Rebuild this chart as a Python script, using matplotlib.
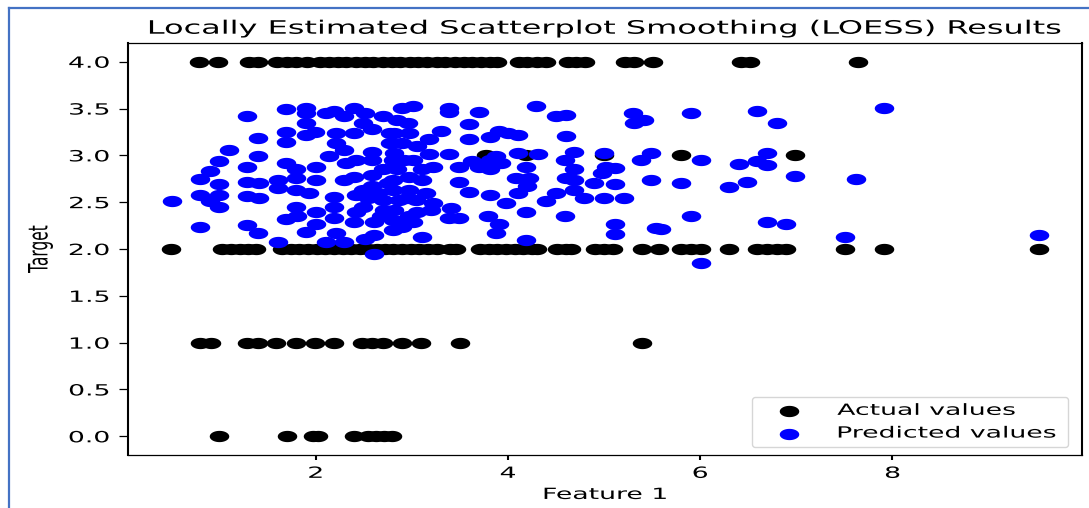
import numpy as np
import matplotlib
matplotlib.use("Agg")
import matplotlib.pyplot as plt
from matplotlib.path import Path
from matplotlib.lines import Line2D
from matplotlib.patheffects import AbstractPathEffect
from matplotlib.transforms import Affine2D

# ---------------- data ----------------
# Actual target values grouped by level (x = Feature 1)
actual_x_at_4 = [0.79, 0.99, 1.31, 1.40, 1.60, 1.70, 1.80, 1.91, 2.05, 2.14, 2.23, 2.32,
                 2.42, 2.51, 2.60, 2.70, 2.79, 2.88, 2.98, 3.07, 3.16, 3.26, 3.35, 3.45,
                 3.54, 3.63, 3.72, 3.81, 3.89, 4.12, 4.20, 4.30, 4.40, 4.62, 4.71, 4.80,
                 5.22, 5.31, 5.51, 6.42, 6.52, 7.64]
actual_x_at_3 = [3.77, 4.19, 5.00, 5.80, 6.99]
actual_x_at_2 = [0.50, 1.03, 1.12, 1.21, 1.30, 1.38, 1.65, 1.74, 1.83, 1.92, 2.01, 2.10,
                 2.19, 2.28, 2.37, 2.46, 2.55, 2.64, 2.72, 2.81, 2.90, 2.99, 3.08, 3.17,
                 3.26, 3.40, 3.46, 3.71, 3.80, 3.89, 3.98, 4.07, 4.16, 4.25, 4.30, 4.51,
                 4.60, 4.66, 4.91, 5.00, 5.09, 5.40, 5.57, 5.80, 5.90, 6.01, 6.30, 6.59,
                 6.69, 6.80, 6.89, 7.51, 7.91, 9.52]
actual_x_at_1 = [0.80, 0.91, 1.29, 1.40, 1.59, 1.80, 1.99, 2.19, 2.48, 2.59, 2.70, 2.90,
                 3.10, 3.50, 5.40]
actual_x_at_0 = [1.00, 1.70, 1.97, 2.03, 2.40, 2.55, 2.63, 2.71, 2.79]
actual_levels = [4.0, 3.0, 2.0, 1.0, 0.0]

# LOESS predictions
pred_x = [0.51, 0.80, 0.80, 0.80, 0.90, 1.00, 1.10, 0.90, 1.00, 1.00, 1.00, 1.29, 1.40,
          1.40, 1.29, 1.29, 1.41, 1.29, 1.41, 1.29, 1.40, 1.61, 1.61, 1.61, 1.69, 1.69,
          1.69, 1.69, 1.69, 1.80, 1.80, 1.80, 1.80, 1.81, 1.90, 1.90, 1.90, 1.90, 1.99,
          1.90, 1.93, 2.00, 2.00, 2.00, 2.00, 2.11, 2.11, 2.14, 2.19, 2.21, 2.21, 2.19,
          2.19, 2.19, 2.21, 2.30, 2.30, 2.30, 2.30, 2.32, 2.40, 2.40, 2.42, 2.40, 2.42,
          2.42, 2.40, 2.51, 2.49, 2.49, 2.49, 2.51, 2.59, 2.59, 2.59, 2.59, 2.59, 2.61,
          2.61, 2.61, 2.70, 2.70, 2.70, 2.71, 2.77, 2.77, 2.80, 2.80, 2.80,
          2.90, 3.01, 2.85, 2.96, 2.82, 2.97, 2.90, 3.18, 3.30, 3.39, 3.39, 3.70, 3.60,
          3.60, 3.81, 3.91, 4.00, 4.10, 4.29, 4.50, 4.60, 4.60, 5.30, 5.31, 5.42, 2.82,
          2.82, 3.01, 3.18, 3.22, 3.39, 3.49, 3.70, 3.81, 3.88, 3.93, 4.10, 4.31, 4.19,
          4.22, 4.20, 4.08, 4.10, 4.59, 4.69, 4.69, 4.60, 4.69, 4.69, 4.79, 4.90, 5.00,
          5.02, 5.11, 4.98, 5.11, 5.00, 5.21, 5.38, 5.49, 5.49, 4.40, 4.50, 4.59, 4.19,
          5.11, 5.11, 5.54, 4.19, 3.88, 3.91, 3.79, 3.49, 3.39, 3.11, 2.90, 2.97, 3.20,
          3.41, 3.60, 3.81, 3.98, 2.87, 3.04, 3.22, 3.49, 3.63, 3.81, 2.97, 3.11, 2.97,
          3.11, 2.80, 2.80, 2.82, 3.01,
          5.90, 6.59, 6.80, 7.91, 6.01, 6.40, 6.59, 6.70, 6.70, 6.99, 5.80, 6.30, 6.49,
          7.62, 5.90, 5.59, 6.70, 6.89, 7.51, 9.52, 6.01,
          2.85, 2.95, 3.05, 2.88, 3.05, 2.92, 3.15, 2.65, 2.75, 2.68, 2.55]
pred_y = [2.51, 2.24, 2.58, 2.75, 2.83, 2.94, 3.06, 2.51, 2.45, 2.69, 2.58, 3.42, 3.19,
          2.99, 2.88, 2.72, 2.71, 2.57, 2.55, 2.26, 2.17, 2.74, 2.65, 2.07, 3.50, 3.25,
          3.14, 2.92, 2.32, 2.85, 2.76, 2.63, 2.45, 2.35, 3.51, 3.45, 3.35, 3.22, 3.25,
          2.18, 2.60, 2.88, 2.74, 2.40, 2.27, 3.45, 2.07, 2.99, 3.47, 3.24, 3.13, 2.56,
          2.45, 2.33, 2.17, 3.42, 3.06, 2.74, 2.08, 2.92, 3.51, 3.24, 2.95, 2.77, 2.58,
          2.40, 2.29, 3.45, 3.35, 2.63, 2.45, 2.11, 3.28, 3.04, 2.95, 2.79, 2.67, 2.29,
          2.15, 1.95, 3.42, 2.85, 2.52, 2.42, 3.13, 3.24, 2.95, 2.31, 2.20,
          3.51, 3.53, 3.38, 3.35, 3.24, 3.24, 3.13, 3.17, 3.26, 3.51, 3.46, 3.46, 3.33,
          3.17, 3.20, 3.26, 3.24, 3.22, 3.53, 3.42, 3.43, 3.21, 3.45, 3.35, 3.38, 3.03,
          2.94, 2.95, 3.01, 2.88, 3.01, 2.88, 2.88, 2.85, 2.99, 2.92, 3.03, 3.01, 2.88,
          2.76, 2.67, 2.76, 2.60, 2.95, 3.04, 2.85, 2.76, 2.74, 2.63, 2.54, 2.70, 3.03,
          2.88, 2.86, 2.81, 2.69, 2.54, 2.54, 2.95, 3.03, 2.74, 2.51, 2.60, 2.35, 2.40,
          2.27, 2.16, 2.22, 2.10, 2.17, 2.27, 2.35, 2.33, 2.33, 2.13, 2.24, 2.35, 2.42,
          2.44, 2.61, 2.58, 2.49, 2.52, 2.52, 2.49, 2.72, 2.94, 2.95, 2.77, 2.74, 2.63,
          2.85, 2.74, 2.63, 2.42, 2.29,
          3.45, 3.47, 3.35, 3.51, 2.95, 2.91, 2.94, 3.03, 2.90, 2.78, 2.71, 2.66, 2.72,
          2.75, 2.35, 2.21, 2.29, 2.27, 2.13, 2.15, 1.85,
          2.85, 2.55, 2.40, 2.30, 3.10, 2.95, 2.60, 2.60, 2.70, 2.35, 2.55]

x_ticks = [2, 4, 6, 8]
x_tick_labels = ["2", "4", "6", "8"]
y_ticks = [0.0, 0.5, 1.0, 1.5, 2.0, 2.5, 3.0, 3.5, 4.0]
y_tick_labels = ["0.0", "0.5", "1.0", "1.5", "2.0", "2.5", "3.0", "3.5", "4.0"]

# ---------------- styling ----------------
SX = 1.73            # horizontal widening of glyphs and markers
TEXT_SIZE = 11.1
TITLE_SIZE = 13.3
MARKER_W_PX = 19.5   # marker width in pixels


class StretchX(AbstractPathEffect):
    """Widen glyph outlines horizontally about an anchor edge."""

    def __init__(self, sx, anchor="center"):
        super().__init__()
        self.sx = sx
        self.anchor = anchor

    def draw_path(self, renderer, gc, tpath, affine, rgbFace=None):
        ext = tpath.get_extents(affine)
        if self.anchor == "left":
            cx = ext.x0
        elif self.anchor == "right":
            cx = ext.x1
        else:
            cx = 0.5 * (ext.x0 + ext.x1)
        tr = affine + Affine2D().translate(-cx, 0).scale(self.sx, 1.0).translate(cx, 0)
        renderer.draw_path(gc, tpath, tr, rgbFace)


# wide elliptical dot
theta = np.linspace(0, 2 * np.pi, 73)
ellipse = Path(np.column_stack([np.cos(theta), np.sin(theta) / SX]), closed=True)
marker_s = (MARKER_W_PX * 72 / 100) ** 2

fig = plt.figure(figsize=(10.89, 5.08), dpi=100)
ax = fig.add_axes([128 / 1089, 1 - 455 / 508, 954 / 1089, 412 / 508])

actual_x = np.concatenate([actual_x_at_4, actual_x_at_3, actual_x_at_2,
                           actual_x_at_1, actual_x_at_0])
actual_y = np.concatenate([np.full(len(g), lvl) for g, lvl in zip(
    [actual_x_at_4, actual_x_at_3, actual_x_at_2, actual_x_at_1, actual_x_at_0],
    actual_levels)])

ax.scatter(actual_x, actual_y, s=marker_s, marker=ellipse, c="black",
           linewidths=0, label="Actual values")
ax.scatter(pred_x, pred_y, s=marker_s, marker=ellipse, c="blue",
           linewidths=0, label="Predicted values")

ax.set_xticks(x_ticks)
ax.set_xticklabels(x_tick_labels)
ax.set_yticks(y_ticks)
ax.set_yticklabels(y_tick_labels)

ax.tick_params(axis="x", length=3.9, width=1.5, pad=3.9, labelsize=TEXT_SIZE)
ax.tick_params(axis="y", length=6.7, width=0.9, pad=6.7, labelsize=TEXT_SIZE)
for side in ("left", "right"):
    ax.spines[side].set_linewidth(1.5)
for side in ("top", "bottom"):
    ax.spines[side].set_linewidth(0.9)

for lbl in ax.get_xticklabels():
    lbl.set_path_effects([StretchX(SX, "center")])
for lbl in ax.get_yticklabels():
    lbl.set_path_effects([StretchX(SX, "right")])

title = ax.set_title("Locally Estimated Scatterplot Smoothing (LOESS) Results",
                     fontsize=TITLE_SIZE, pad=6.7)
title.set_path_effects([StretchX(SX, "center")])

xl = ax.set_xlabel("Feature 1", fontsize=TEXT_SIZE, labelpad=4.4)
xl.set_path_effects([StretchX(SX, "center")])
yl = ax.set_ylabel("Target", fontsize=TEXT_SIZE, va="center")
ax.yaxis.set_label_coords((40 - 128) / 954, 0.5)
yl.set_path_effects([StretchX(SX, "center")])

leg = ax.legend(loc="lower left", bbox_to_anchor=(0.6538, 0.0201, 0.3315, 0.2),
                mode="expand", borderaxespad=0, handlelength=4.05,
                handletextpad=1.1, fontsize=TEXT_SIZE)
for t in leg.get_texts():
    t.set_path_effects([StretchX(SX, "left")])

# blue frame around the figure
frame_color = "#4472C4"
fig.add_artist(Line2D([9 / 1089, 1.0], [1 - 7.5 / 508, 1 - 7.5 / 508],
                      color=frame_color, lw=1.6, transform=fig.transFigure))
fig.add_artist(Line2D([9 / 1089, 9 / 1089], [0.0, 1 - 7.5 / 508],
                      color=frame_color, lw=1.6, transform=fig.transFigure))

fig.savefig("out.png", dpi=100)
